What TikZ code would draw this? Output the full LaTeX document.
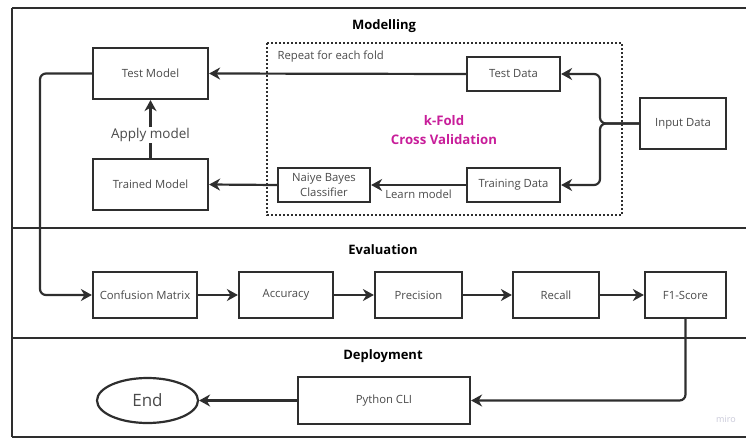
\documentclass[tikz,border=0pt]{standalone}
\usepackage{fontspec}
\setmainfont{Open Sans}
\usetikzlibrary{arrows.meta,shapes.geometric}
\definecolor{linec}{HTML}{2E2E2E}
\definecolor{textc}{HTML}{4A4A4A}
\definecolor{kfold}{HTML}{C81E9A}
\definecolor{miroc}{HTML}{C8C8D8}
\tikzset{
  box/.style={draw=linec, line width=2.2pt, fill=white, minimum width=#1, minimum height=34pt, inner sep=0pt, align=center, text=textc, font=\fontsize{11.3}{13.5}\selectfont},
  box/.default=93pt,
  conn/.style={draw=linec, line width=2.2pt, rounded corners=6pt},
  arr/.style={conn, -{Stealth[length=11pt,width=12pt,inset=3.5pt]}},
  title/.style={font=\bfseries\fontsize{13}{15}\selectfont, text=black},
  lbl/.style={text=textc, font=\fontsize{11.3}{13.5}\selectfont},
}
\begin{document}
\begin{tikzpicture}[x=1pt,y=-1pt]
\useasboundingbox (0,0) rectangle (746,439);
% frame
\draw[linec, line width=2.6pt] (12,8) -- (750,8);
\draw[linec, line width=2.6pt] (12,437) -- (750,437);
\draw[linec, line width=2.6pt] (12,8) -- (12,437);
\draw[linec, line width=2.6pt] (12,228) -- (750,228);
\draw[linec, line width=2.6pt] (12,338) -- (750,338);
% titles
\node[title] (t1) at (384,26) {Modelling};
\node[title] (t2) at (383,250) {Evaluation};
\node[title] (t3) at (383,356) {Deployment};
% dotted group
\draw[linec, line width=2.3pt, dash pattern=on 2pt off 2pt] (267,43) rectangle (622,215);
\node[lbl, anchor=west] (rep) at (274,57) {Repeat for each fold};
\node[text=kfold, font=\bfseries\fontsize{13.2}{19}\selectfont, align=center] (kf) at (444,130) {k-Fold\\Cross Validation};
% modelling nodes
\node[box=115pt, minimum height=51pt] (tm) at (150.5,73.5) {Test Model};
\node[box=115pt, minimum height=51pt] (trm) at (150.5,184.5) {Trained Model};
\node[box=92pt, font=\fontsize{11.3}{15}\selectfont] (nb) at (324,185) {Naiye Bayes\\Classifier};
\node[box=93pt] (td) at (513.5,74) {Test Data};
\node[box=93pt] (trd) at (513.5,185) {Training Data};
\node[box=86pt, minimum height=51pt] (in) at (683,123.5) {Input Data};
\node[text=textc, font=\fontsize{13.5}{15}\selectfont, fill=white, inner sep=1pt] (am) at (150.5,135) {Apply model};
% evaluation nodes
\node[box=104pt, minimum height=46pt] (cm) at (145,295) {Confusion Matrix};
\node[box=94pt, minimum height=46pt] (acc) at (286,295) {Accuracy};
\node[box=87pt, minimum height=46pt] (pre) at (418.5,295) {Precision};
\node[box=86pt, minimum height=46pt] (rec) at (556,295) {Recall};
\node[box=81pt, minimum height=46pt] (f1) at (685.5,295) {F1-Score};
% deployment nodes
\node[box=172pt, minimum height=47pt] (py) at (384,400.5) {Python CLI};
\node[ellipse, draw=linec, line width=2.2pt, minimum width=101pt, minimum height=45pt, inner sep=0pt, text=textc, font=\fontsize{17}{19}\selectfont] (end) at (147.5,400.5) {End};
\node[text=miroc, font=\fontsize{9}{10}\selectfont] (miro) at (726,419) {miro};
% coordinates
\coordinate (split) at (600,123.5);
\coordinate (lft) at (40,73.5);
% connectors
\draw[arr] (in.west) -- (split) |- (td.east);
\draw[arr] (in.west) -- (split) |- (trd.east);
\draw[arr] (td.west) -- (tm.east);
\draw[arr] (trd.west) -- node[lbl, below=0pt] (lm) {Learn model} (nb.east);
\draw[arr] (nb.west) -- (trm.east);
\draw[conn] (trm.north) -- (am.south);
\draw[arr] (am.north) -- (tm.south);
\draw[arr] (tm.west) -- (lft) |- (cm.west);
\draw[arr] (cm.east) -- (acc.west);
\draw[arr] (acc.east) -- (pre.west);
\draw[arr] (pre.east) -- (rec.west);
\draw[arr] (rec.east) -- (f1.west);
\draw[arr] (f1.south) |- (py.east);
\draw[arr] (py.west) -- (end.east);
\end{tikzpicture}
\end{document}
